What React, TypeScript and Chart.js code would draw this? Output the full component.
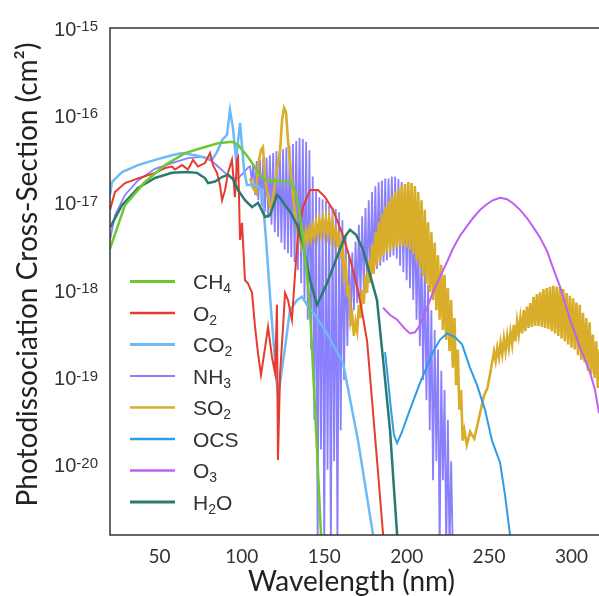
import React, { useEffect, useRef } from "react";
import { Chart, registerables } from "chart.js";

Chart.register(...registerables);

// ---------- data: [wavelength nm, cross-section cm^2] ----------
const CH4: [number, number][] = [
  [20, 3.0e-18], [29.1, 9.4e-18], [41.2, 1.73e-17], [53.4, 2.7e-17], [65.5, 3.7e-17], [77.6, 4.35e-17],
  [85.5, 4.8e-17], [94.0, 5.0e-17], [97.7, 4.6e-17], [103.7, 3.35e-17], [109.8, 2.25e-17], [114.1, 1.82e-17],
  [121.9, 1.77e-17], [129.2, 1.73e-17], [132.3, 1.4e-17], [134.1, 9.4e-18], [135.3, 6.9e-18], [137.1, 3.75e-18],
  [138.9, 1.94e-18], [140.1, 1.21e-18], [142.0, 3.5e-19], [143.8, 7.2e-20], [145.6, 1.5e-20], [148.0, 1.6e-21],
  [149.0, 8e-22],
];

const O2: [number, number][] = [
  [20, 8.3e-18], [23.0, 1.33e-17], [29.1, 1.68e-17], [37.0, 1.9e-17], [47.3, 2.2e-17], [53.4, 2.5e-17],
  [57.6, 2.6e-17], [59.4, 2.4e-17], [63.7, 2.7e-17], [67.3, 2.4e-17], [70.4, 3.1e-17], [73.4, 2.6e-17],
  [77.6, 2.85e-17], [80.7, 3.7e-17], [82.5, 2.7e-17], [84.9, 2.2e-17], [86.7, 1.6e-17], [88.0, 1.07e-17],
  [89.8, 1.4e-17], [91.6, 2.2e-17], [94.0, 3.1e-17], [95.8, 1.16e-17], [97.1, 3.1e-17], [97.7, 3.3e-17],
  [98.9, 3.75e-18], [100.1, 5.9e-18], [101.9, 1.3e-18], [103.7, 1.2e-18], [106.2, 9.3e-19], [108.0, 3.8e-19],
  [109.8, 1.9e-19], [111.6, 1.07e-19], [114.1, 2.2e-19], [115.9, 3.8e-19], [118.3, 1.7e-19], [120.1, 1.13e-19],
  [121.3, 6.8e-19], [121.9, 1.14e-20], [123.2, 1.13e-19], [125.0, 3.8e-19], [126.2, 9.3e-19], [128.0, 7.7e-19],
  [130.4, 4.6e-19], [132.3, 1.57e-18], [134.1, 4.5e-18], [137.1, 8.9e-18], [141.4, 1.4e-17], [146.2, 1.4e-17],
  [150.5, 1.16e-17], [155.3, 8.3e-18], [160.8, 4.5e-18], [165.6, 2.3e-18], [170.5, 1.0e-18], [173.5, 4.9e-19],
  [176.0, 2.6e-19], [179.0, 5.5e-20], [182.0, 1.14e-20], [185.7, 1.6e-21], [186.9, 8e-22],
];

const CO2: [number, number][] = [
  [20, 1.23e-17], [21.2, 1.73e-17], [27.3, 2.25e-17], [37.0, 2.7e-17], [47.3, 3.1e-17], [57.6, 3.5e-17],
  [63.7, 3.7e-17], [71.6, 3.5e-17], [77.6, 3.3e-17], [81.9, 3.1e-17], [84.9, 3.8e-17], [88.0, 5.2e-17],
  [91.0, 6.0e-17], [92.8, 1.15e-16], [94.6, 7.2e-17], [96.5, 3.1e-17], [98.9, 8.2e-17], [101.3, 2.4e-17],
  [103.1, 1.6e-17], [108.0, 1.6e-17], [112.2, 1.4e-17], [114.7, 3.75e-18], [117.7, 5.9e-19], [120.1, 1.6e-19],
  [121.9, 6.0e-20], [126.2, 2.2e-19], [129.2, 5.9e-19], [133.5, 7.7e-19], [136.5, 8.4e-19], [139.5, 6.8e-19],
  [143.2, 5.6e-19], [150.5, 3.5e-19], [161.4, 1.47e-19], [170.5, 1.9e-20], [179.6, 1.6e-21], [180.8, 8e-22],
];

const NH3: [number, number][] = [
  [20, 3.75e-18], [23, 7.2e-18], [29.1, 1.23e-17], [37, 1.8e-17], [47.3, 2.45e-17], [57.6, 2.85e-17],
  [67.3, 3.25e-17], [75.8, 3.35e-17], [81.9, 3.0e-17], [85.5, 2.6e-17], [89.8, 2.2e-17], [94, 1.9e-17],
  [97.7, 1.9e-17], [101.9, 2.3e-17], [104, 2.55e-17],
  [105, 2.6e-17], [106, 1.8e-17], [107, 2.75e-17], [108, 1.23e-17], [109, 3.0e-17], [110, 1.07e-17],
  [111, 3.1e-17], [112, 9.2e-18], [113, 3.2e-17], [114, 7.8e-18], [115, 3.3e-17], [116, 6.7e-18],
  [117, 3.5e-17], [118, 5.6e-18], [119, 3.7e-17], [120, 4.6e-18], [121, 3.9e-17], [122, 4.1e-18],
  [123, 4.0e-17], [124, 3.5e-18], [125, 4.1e-17], [126, 2.9e-18], [127, 4.3e-17], [128, 2.65e-18],
  [129, 4.5e-17], [130, 2.4e-18], [131, 4.7e-17], [132, 2.1e-18], [133, 5.1e-17], [134, 1.7e-18],
  [135, 5.5e-17], [136, 1.2e-18], [137, 5.35e-17], [138, 7.7e-19], [139, 5.0e-17], [140, 4.6e-19],
  [141, 4.0e-17], [142, 2.1e-19], [143, 2.0e-17], [144, 3.3e-20], [145, 1.4e-17], [146, 1e-21],
  [147, 1.16e-17], [148, 1.5e-20], [149, 1.1e-17], [150, 1e-21], [151, 1.05e-17], [152, 8.8e-21],
  [153, 9.4e-18], [154, 1e-21], [155, 8.9e-18], [156, 1.1e-20], [157, 8.5e-18], [158, 1e-21],
  [159, 7.8e-18], [160, 2.5e-20], [161, 6.3e-18], [162, 9.4e-20], [163, 4.3e-18], [164, 2.3e-19],
  [165, 2.5e-18], [166, 3.9e-19], [167, 2.7e-18], [168, 5.9e-19], [169, 3.6e-18], [170, 7.1e-19],
  [171, 5.6e-18], [172, 8.3e-19], [173, 7.0e-18], [174, 1.0e-18], [175, 8.7e-18], [176, 1.15e-18],
  [177, 1.07e-17], [178, 1.3e-18], [179, 1.33e-17], [180, 1.55e-18], [181, 1.55e-17], [182, 1.75e-18],
  [183, 1.73e-17], [184, 1.9e-18], [185, 1.8e-17], [186, 2.1e-18], [187, 1.9e-17], [188, 2.2e-18],
  [189, 1.9e-17], [190, 2.4e-18], [191, 2.0e-17], [192, 2.5e-18], [193, 2.0e-17], [194, 2.3e-18],
  [195, 1.87e-17], [196, 1.9e-18], [197, 1.73e-17], [198, 1.6e-18], [199, 1.55e-17], [200, 1.3e-18],
  [201, 1.3e-17], [202, 1.05e-18], [203, 9.9e-18], [204, 7.7e-19], [205, 7.2e-18], [206, 4.6e-19],
  [207, 4.5e-18], [208, 2.3e-19], [209, 3.0e-18], [210, 9.4e-20], [211, 2.1e-18], [212, 5.5e-20],
  [213, 1.15e-18], [214, 2.5e-20], [215, 5.9e-19], [216, 6.7e-21], [217, 3.5e-19], [218, 1.1e-20],
  [219, 2.1e-19], [220, 1e-21], [221, 1.2e-19], [222, 6.7e-21], [223, 7.2e-20], [224, 1e-21],
  [225, 3.3e-20], [226, 1e-21], [227, 1.1e-20], [228, 1e-21],
];

const SO2: [number, number][] = [
  [105, 1.9e-17], [106.8, 1.48e-17], [108.6, 1.3e-17], [109.8, 2.7e-17], [111.6, 4.0e-17], [112.8, 4.35e-17],
  [114.1, 1.9e-17], [115.9, 1.16e-17], [117.7, 8.3e-18], [119.5, 1.4e-17], [121.3, 2.4e-17], [123.2, 4.0e-17],
  [124.4, 8.9e-17], [125.6, 1.22e-16], [126.8, 1.09e-16], [128.0, 5.2e-17], [129.8, 2.1e-17], [132.3, 7.2e-18],
  [134.1, 4.3e-18],
  [135, 4.2e-18], [136, 3.3e-18], [137, 4.4e-18], [138, 3.5e-18], [139, 4.8e-18], [140, 3.7e-18],
  [141, 5.0e-18], [142, 3.9e-18], [143, 5.4e-18], [144, 4.1e-18], [145, 5.9e-18], [146, 4.3e-18],
  [147, 6.2e-18], [148, 4.5e-18], [149, 6.5e-18], [150, 4.6e-18], [151, 6.7e-18], [152, 4.5e-18],
  [153, 6.5e-18], [154, 4.2e-18], [155, 6.0e-18], [156, 3.75e-18], [157, 5.4e-18], [158, 3.1e-18],
  [159, 4.6e-18], [160, 2.3e-18], [161, 3.3e-18], [162, 1.5e-18], [163, 1.95e-18], [164, 8.4e-19],
  [165, 1.15e-18], [166, 4.3e-19], [167, 5.2e-19], [168, 3.0e-19], [169, 4.3e-19], [170, 3.4e-19],
  [171, 6.8e-19], [172, 4.8e-19], [173, 1.0e-18], [174, 7.0e-19], [175, 1.5e-18], [176, 9.3e-19],
  [177, 2.2e-18], [178, 1.2e-18], [179, 3.3e-18], [180, 1.53e-18], [181, 4.6e-18], [182, 1.9e-18],
  [183, 6.0e-18], [184, 2.2e-18], [185, 7.5e-18], [186, 2.5e-18], [187, 9.0e-18], [188, 2.7e-18],
  [189, 1.05e-17], [190, 2.8e-18], [191, 1.2e-17], [192, 3.0e-18], [193, 1.33e-17], [194, 3.1e-18],
  [195, 1.44e-17], [196, 3.2e-18], [197, 1.56e-17], [198, 3.2e-18], [199, 1.64e-17], [200, 3.1e-18],
  [201, 1.73e-17], [202, 2.9e-18], [203, 1.68e-17], [204, 2.6e-18], [205, 1.56e-17], [206, 2.2e-18],
  [207, 1.33e-17], [208, 1.8e-18], [209, 1.07e-17], [210, 1.45e-18], [211, 8.3e-18], [212, 1.18e-18],
  [213, 6.0e-18], [214, 9.5e-19], [215, 4.6e-18], [216, 7.7e-19], [217, 3.5e-18], [218, 5.9e-19],
  [219, 2.5e-18], [220, 4.6e-19], [221, 1.95e-18], [222, 3.5e-19], [223, 1.5e-18], [224, 2.7e-19],
  [225, 1.06e-18], [226, 2.0e-19], [227, 7.7e-19], [228, 1.3e-19], [229, 4.8e-19], [230, 8.2e-20],
  [231, 2.1e-19], [232, 4.3e-20], [233, 7.2e-20], [234, 1.9e-20], [235, 2.5e-20],
  [236.5, 1.7e-20], [238.5, 2.4e-20], [241, 2.0e-20], [243, 2.9e-20], [245, 4.3e-20], [247, 6.3e-20],
  [249, 7.6e-20], [251, 1.2e-19],
  [253, 2.0e-19], [254, 1.55e-19], [255, 2.2e-19], [256, 1.7e-19], [257, 2.5e-19], [258, 1.85e-19],
  [259, 2.8e-19], [260, 2.0e-19], [261, 3.0e-19], [262, 2.2e-19], [263, 3.3e-19], [264, 2.4e-19],
  [265, 4.0e-19], [266, 2.6e-19], [267, 4.4e-19], [268, 3.1e-19], [269, 4.8e-19], [270, 3.2e-19],
  [271, 5.9e-19], [272, 3.4e-19], [273, 6.5e-19], [274, 3.7e-19], [275, 7.1e-19], [276, 3.8e-19],
  [277, 8.4e-19], [278, 3.9e-19], [279, 9.0e-19], [280, 3.9e-19], [281, 9.5e-19], [282, 3.8e-19],
  [283, 1.03e-18], [284, 3.7e-19], [285, 1.06e-18], [286, 3.6e-19], [287, 1.09e-18], [288, 3.4e-19],
  [289, 1.12e-18], [290, 3.2e-19], [291, 1.1e-18], [292, 3.0e-19], [293, 1.09e-18], [294, 2.8e-19],
  [295, 1.03e-18], [296, 2.6e-19], [297, 9.3e-19], [298, 2.4e-19], [299, 8.6e-19], [300, 2.2e-19],
  [301, 8.1e-19], [302, 2.1e-19], [303, 7.2e-19], [304, 1.8e-19], [305, 6.8e-19], [306, 1.6e-19],
  [307, 5.5e-19], [308, 1.5e-19], [309, 4.8e-19], [310, 1.2e-19], [311, 4.3e-19], [312, 1.1e-19],
  [313, 3.1e-19], [314, 9.9e-20], [315, 2.6e-19], [316, 7.6e-20], [317, 2.1e-19], [318, 6.3e-20],
  [319, 1.6e-19],
];

const OCS: [number, number][] = [
  [186.9, 1.96e-19], [188.7, 9.4e-20], [190.5, 4.3e-20], [192.3, 2.2e-20], [194.2, 1.78e-20], [197.2, 2.4e-20],
  [202.0, 4.3e-20], [208.1, 8.7e-20], [216.0, 1.96e-19], [220.2, 2.7e-19], [224.5, 3.2e-19], [229.3, 2.9e-19],
  [233.6, 2.4e-19], [238.4, 1.3e-19], [242.7, 8.2e-20], [247.5, 4.3e-20], [251.8, 1.9e-20], [256.7, 1.06e-20],
  [259.7, 4.5e-21], [262.7, 1.6e-21], [264, 8e-22],
];

const O3: [number, number][] = [
  [185.7, 6.3e-19], [189.9, 5.2e-19], [194.2, 4.6e-19], [198.4, 3.7e-19], [202.0, 3.2e-19], [205.1, 3.3e-19],
  [208.1, 4.0e-19], [212.4, 6.3e-19], [216.0, 9.5e-19], [220.2, 1.42e-18], [224.5, 2.1e-18], [228.1, 3.0e-18],
  [232.4, 4.2e-18], [236.6, 5.4e-18], [240.3, 6.7e-18], [244.5, 8.3e-18], [248.8, 9.7e-18], [252.4, 1.07e-17],
  [256.7, 1.14e-17], [260.9, 1.1e-17], [264.5, 9.9e-18], [268.8, 8.3e-18], [273.0, 6.7e-18], [276.7, 5.3e-18],
  [280.9, 4.0e-18], [285.2, 2.8e-18], [288.8, 1.8e-18], [293.1, 1.09e-18], [296.1, 7.1e-19], [299.1, 4.6e-19],
  [302.2, 3.2e-19], [305.2, 2.2e-19], [308.2, 1.6e-19], [311.3, 1.13e-19], [314.3, 7.2e-20], [316.7, 3.9e-20],
  [319.1, 2.5e-20],
];

const H2O: [number, number][] = [
  [20, 5.2e-18], [27.3, 9.4e-18], [37.0, 1.48e-17], [47.3, 1.92e-17], [57.6, 2.2e-17], [66.7, 2.25e-17],
  [72.8, 2.2e-17], [77.6, 1.92e-17], [79.5, 1.68e-17], [83.7, 1.75e-17], [88.0, 1.97e-17], [91.6, 2.1e-17],
  [94.6, 1.87e-17], [97.7, 1.4e-17], [101.9, 1.07e-17], [106.2, 8.9e-18], [109.8, 1.0e-17], [114.1, 6.9e-18],
  [117.1, 7.2e-18], [121.3, 1.23e-17], [123.2, 1.14e-17], [126.2, 9.4e-18], [129.2, 7.9e-18], [133.5, 5.6e-18],
  [137.1, 3.3e-18], [141.4, 1.3e-18], [145.6, 6.8e-19], [151.7, 1.2e-18], [157.7, 2.4e-18], [162.6, 4.1e-18],
  [165.6, 4.9e-18], [169.3, 4.3e-18], [173.5, 2.9e-18], [177.8, 1.5e-18], [182.0, 7.7e-19], [185.7, 1.6e-19],
  [189.9, 2.5e-20], [194.2, 1.6e-21], [196, 8e-22],
];

const SERIES_LABELS = ["CH₄", "O₂", "CO₂", "NH₃", "SO₂", "OCS", "O₃", "H₂O"];
const SERIES_DATA = [CH4, O2, CO2, NH3, SO2, OCS, O3, H2O];
const SERIES_COLORS = ["#6dc832", "#e63b2e", "#6cbaf6", "#8b80fb", "#d8ad29", "#2e9ce6", "#c060ef", "#2c7a6f"];
const SERIES_WIDTHS = [2.5, 2, 2.5, 1.8, 2.6, 2, 2, 2.5];
const LEGEND_WIDTHS = [3, 2.5, 3, 2, 2.5, 2.5, 2.5, 3];
const SERIES_Z = [0, 4, 5, 7, 6, 3, 2, 1];

const X_TICKS = [50, 100, 150, 200, 250, 300];
const Y_TICKS = [1e-15, 1e-16, 1e-17, 1e-18, 1e-19, 1e-20];
const X_TITLE = "Wavelength (nm)";
const Y_TITLE = "Photodissociation Cross-Section (cm²)";

const SANS = '"Liberation Sans", Arial, sans-serif';
const LATO = 'Lato, "Open Sans", sans-serif';
const SUBS = "₀₁₂₃₄₅₆₇₈₉";

function drawRich(ctx: CanvasRenderingContext2D, text: string, x: number, y: number) {
  let cx = x;
  for (const ch of text) {
    const i = SUBS.indexOf(ch);
    if (i >= 0) {
      ctx.font = `14px ${SANS}`;
      ctx.fillText(String(i), cx, y + 4);
      cx += ctx.measureText(String(i)).width;
    } else {
      ctx.font = `21px ${SANS}`;
      ctx.fillText(ch, cx, y);
      cx += ctx.measureText(ch).width;
    }
  }
}

const decorPlugin = {
  id: "decor",
  afterDraw(chart: any) {
    const { ctx, chartArea: ca, scales } = chart;
    const xs = scales.x;
    const ys = scales.y;
    ctx.save();
    // frame
    ctx.strokeStyle = "#333";
    ctx.lineWidth = 1.5;
    ctx.beginPath();
    ctx.moveTo(ca.right + 2, ca.top);
    ctx.lineTo(ca.left, ca.top);
    ctx.lineTo(ca.left, ca.bottom);
    ctx.lineTo(ca.right + 2, ca.bottom);
    ctx.stroke();

    // y tick labels 10^n
    ctx.fillStyle = "#333";
    ctx.textAlign = "left";
    ctx.textBaseline = "alphabetic";
    for (const v of Y_TICKS) {
      const y = ys.getPixelForValue(v);
      const exp = String(Math.round(Math.log10(v)));
      ctx.font = `15px ${SANS}`;
      const we = ctx.measureText(exp).width;
      const xEnd = ca.left - 12;
      ctx.fillText(exp, xEnd - we, y + 3);
      ctx.font = `20px ${SANS}`;
      const w10 = ctx.measureText("10").width;
      ctx.fillText("10", xEnd - we - w10, y + 7.5);
    }

    // x tick labels
    ctx.font = `19px ${LATO}`;
    ctx.textAlign = "center";
    for (const v of X_TICKS) {
      ctx.fillText(String(v), xs.getPixelForValue(v), ca.bottom + 28);
    }

    // axis titles
    ctx.fillStyle = "#222";
    ctx.font = `28px ${LATO}`;
    ctx.textAlign = "center";
    ctx.fillText(X_TITLE, (ca.left + ca.right) / 2 - 3, ca.bottom + 56);
    ctx.save();
    ctx.translate(37, (ca.top + ca.bottom) / 2 - 7);
    ctx.rotate(-Math.PI / 2);
    ctx.fillText(Y_TITLE, 0, 0);
    ctx.restore();

    // legend
    ctx.textAlign = "left";
    ctx.fillStyle = "#333";
    chart.data.datasets.forEach((ds: any, i: number) => {
      const y = ca.top + 253.5 + i * 31.5;
      ctx.strokeStyle = ds.borderColor;
      ctx.lineWidth = LEGEND_WIDTHS[i];
      ctx.beginPath();
      ctx.moveTo(ca.left + 20, y);
      ctx.lineTo(ca.left + 65, y);
      ctx.stroke();
      drawRich(ctx, ds.label, ca.left + 83, y + 7.5);
    });
    ctx.restore();
  },
};

export default function App() {
  const ref = useRef<HTMLCanvasElement>(null);
  useEffect(() => {
    if (!ref.current) return;
    const chart = new Chart(ref.current, {
      type: "line",
      data: {
        datasets: SERIES_DATA.map((d, i) => ({
          label: SERIES_LABELS[i],
          data: d.map(([x, y]) => ({ x, y })),
          borderColor: SERIES_COLORS[i],
          backgroundColor: SERIES_COLORS[i],
          borderWidth: SERIES_WIDTHS[i],
          pointRadius: 0,
          tension: 0,
          fill: false,
          order: SERIES_Z[i],
        })),
      },
      options: {
        animation: false,
        responsive: false,
        devicePixelRatio: 1,
        layout: { padding: { top: 28, left: 0, right: 0, bottom: 0 } },
        plugins: { legend: { display: false }, tooltip: { enabled: false } },
        scales: {
          x: {
            type: "linear",
            min: 20,
            max: 316.7,
            grid: { display: false },
            border: { display: false },
            ticks: { display: false },
            afterBuildTicks: (s: any) => { s.ticks = X_TICKS.map((v) => ({ value: v })); },
            afterFit: (s: any) => { s.height = 61; },
          },
          y: {
            type: "logarithmic",
            min: 1.58e-21,
            max: 1e-15,
            grid: { display: false },
            border: { display: false },
            ticks: { display: false },
            afterBuildTicks: (s: any) => { s.ticks = Y_TICKS.map((v) => ({ value: v })); },
            afterFit: (s: any) => { s.width = 110; },
          },
        },
      } as any,
      plugins: [decorPlugin],
    });
    return () => chart.destroy();
  }, []);
  return (
    <div style={{ position: "absolute", left: 0, top: 0, width: 599, height: 596, background: "#fff" }}>
      <canvas ref={ref} width={599} height={596} style={{ display: "block", width: 599, height: 596 }} />
    </div>
  );
}
